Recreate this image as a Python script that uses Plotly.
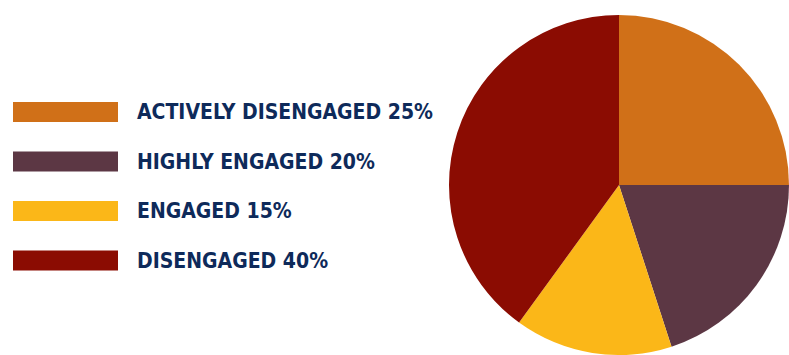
import plotly.graph_objects as go

categories = ["ACTIVELY DISENGAGED", "HIGHLY ENGAGED", "ENGAGED", "DISENGAGED"]
values = [25, 20, 15, 40]
colors = ["#D07018", "#5C3744", "#FBB718", "#8B0C02"]

W, H = 789, 355
text_color = "#0E2A5A"

fig = go.Figure()
fig.add_trace(go.Pie(
    labels=categories,
    values=values,
    marker=dict(colors=colors, line=dict(width=0)),
    sort=False,
    direction="clockwise",
    rotation=0,
    textinfo="none",
    hoverinfo="label+percent",
    showlegend=False,
    domain=dict(x=[449 / W, 1.0], y=[0.0, 340 / H]),
))

row_y = [112, 161.5, 211, 260.5]
shapes = []
annotations = []
for cat, val, col, yc in zip(categories, values, colors, row_y):
    shapes.append(dict(
        type="rect", xref="paper", yref="paper",
        x0=13 / W, x1=118 / W,
        y0=1 - (yc + 10) / H, y1=1 - (yc - 10) / H,
        fillcolor=col, line=dict(width=0),
    ))
    annotations.append(dict(
        text=f"<b>{cat} {val}%</b>", xref="paper", yref="paper",
        x=135 / W, y=1 - yc / H, xanchor="left", yanchor="middle",
        showarrow=False,
        font=dict(family="DejaVu Sans Condensed, sans-serif",
                  size=21, color=text_color),
    ))

fig.update_layout(
    width=W, height=H,
    margin=dict(l=0, r=0, t=0, b=0),
    paper_bgcolor="white",
    plot_bgcolor="white",
    shapes=shapes,
    annotations=annotations,
)

fig.write_html("out.html")
